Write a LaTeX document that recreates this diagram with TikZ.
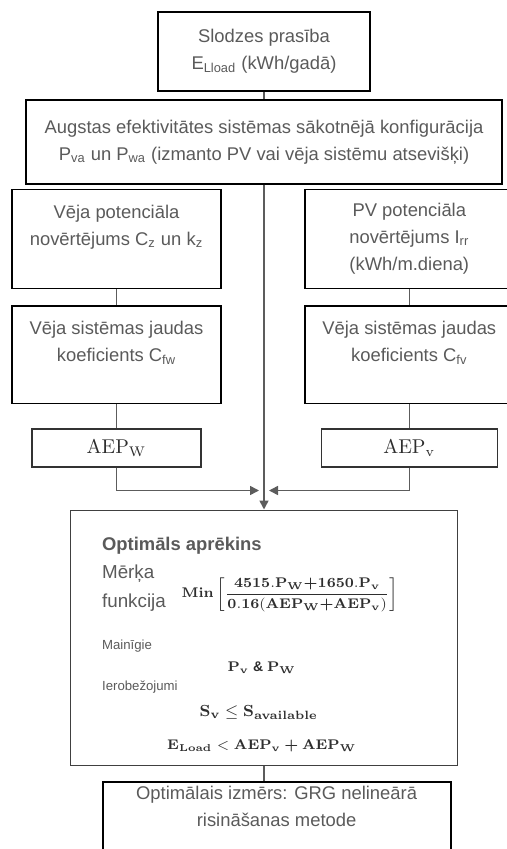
\documentclass[tikz,border=0pt]{standalone}
\usepackage{amsmath}
\usepackage[no-math]{fontspec}
\setmainfont{Liberation Sans}
\usepackage{tikz}
\usetikzlibrary{arrows.meta,positioning,calc}
\definecolor{txtgray}{HTML}{5A5A5A}
\definecolor{linegray}{HTML}{5C5C5C}
\definecolor{mathgray}{HTML}{2E2E2E}
\newcommand\boxfont{\fontsize{9.2}{13.5}\selectfont}
\newcommand\tinyfont{\fontsize{6.6}{8}\selectfont}

\begin{document}
\begin{tikzpicture}[
  node distance=4pt,
  box/.style={draw=black, line width=0.9pt, align=center, font=\boxfont,
              text=txtgray, inner sep=2pt},
  aepbox/.style={draw=black!80, line width=0.6pt, minimum height=19pt,
                 font=\normalsize, text=mathgray},
  optbox/.style={draw=black!75, line width=0.8pt, minimum width=193.5pt,
                 minimum height=127.5pt},
  lbl/.style={text=txtgray, inner sep=0pt, anchor=base west},
  eq/.style={text=mathgray, inner sep=0pt, font=\scriptsize},
  link/.style={draw=linegray, line width=0.8pt},
  arrow/.style={link, -{Triangle[length=4.5pt,width=4.5pt]}}
]
\clip (0,0) rectangle (253.5pt,-424.5pt);

% top of the chain
\node[box, minimum width=106pt, minimum height=39.5pt] (load) at (132pt,-25.75pt)
  {Slodzes prasība\\E\textsubscript{Lload} (kWh/gadā)};
\node[box, minimum width=238pt, minimum height=42pt, below=3.5pt of load] (config)
  {Augstas efektivitātes sistēmas sākotnējā konfigurācija\\
   P\textsubscript{va} un P\textsubscript{wa} (izmanto PV vai vēja sistēmu atsevišķi)};

% wind and PV branches
\node[box, minimum width=104.5pt, minimum height=49.5pt,
      below right=2pt and -7pt of config.south west] (windpot)
  {Vēja potenciāla\\novērtējums C\textsubscript{z} un k\textsubscript{z}\\~};
\node[box, minimum width=104.5pt, minimum height=49.5pt, right=41pt of windpot] (pvpot)
  {PV potenciāla\\novērtējums I\textsubscript{rr}\\(kWh/m.diena)};
\node[box, minimum width=104.5pt, minimum height=48.5pt, below=8pt of windpot] (windcoef)
  {Vēja sistēmas jaudas\\koeficients C\textsubscript{fw}\\~};
\node[box, minimum width=104.5pt, minimum height=48.5pt, below=8pt of pvpot] (pvcoef)
  {Vēja sistēmas jaudas\\koeficients C\textsubscript{fv}\\~};

\node[aepbox, minimum width=84.5pt, below=12pt of windcoef] (aepw)
  {$\mathrm{AEP}_{\mathrm{W}}$};
\node[aepbox, minimum width=88pt, below=12pt of pvcoef] (aepv)
  {$\mathrm{AEP}_{\mathrm{v}}$};

\coordinate (mid) at (config.south |- aepw.south);
\coordinate[below=11.5pt of mid] (join);

% optimisation block
\node[optbox, below=21pt of mid] (optim) {};
\node[lbl, font=\fontsize{9.2}{10}\bfseries] (ttl)
  at ([shift={(16pt,-20.5pt)}]optim.north west) {Optimāls aprēkins};
\node[lbl, font=\fontsize{9.4}{10}\selectfont] (goal1)
  at ([shift={(16pt,-34.5pt)}]optim.north west) {Mērķa};
\node[lbl, font=\fontsize{9.4}{10}\selectfont] (goal2)
  at ([shift={(16pt,-49pt)}]optim.north west) {funkcija};
\node[eq] (obj) at ([shift={(110pt,-42.5pt)}]optim.north west)
  {$\mathbf{Min}\left[\dfrac{\mathbf{4515.P_W}{\boldsymbol{+}}\mathbf{1650.P_v}}
   {\mathbf{0.16(AEP_W}{\boldsymbol{+}}\mathbf{AEP_v)}}\right]$};
\node[lbl, font=\tinyfont] (vars)
  at ([shift={(16pt,-70pt)}]optim.north west) {Mainīgie};
\node[eq] (varset) at ([shift={(96pt,-79pt)}]optim.north west)
  {$\mathbf{P_v}$ \textbf{\&} $\mathbf{P_W}$};
\node[lbl, font=\tinyfont] (cons)
  at ([shift={(16pt,-90.5pt)}]optim.north west) {Ierobežojumi};
\node[eq, font=\footnotesize] (area) at ([shift={(94.5pt,-101.5pt)}]optim.north west)
  {$\mathbf{S_v}\leq\mathbf{S_{available}}$};
\node[eq] (energy) at ([shift={(96pt,-118pt)}]optim.north west)
  {$\mathbf{E_{Load}}<\mathbf{AEP_v}\boldsymbol{+}\mathbf{AEP_W}$};

\node[box, minimum width=174pt, below right=7.5pt and 16pt of optim.south west] (size)
  {Optimālais izmērs: GRG nelineārā\\risināšanas metode\\~\\~};

% connectors
\draw[link] (load) -- (config);
\draw[link] (windpot) -- (windcoef);
\draw[link] (pvpot) -- (pvcoef);
\draw[link] (windcoef) -- (aepw);
\draw[link] (pvcoef) -- (aepv);
\draw[arrow] (config.south) -- (optim.north);
\draw[arrow] (aepw.south) |- ([xshift=-2.5pt]join);
\draw[arrow] (aepv.south) |- ([xshift=2.5pt]join);
\draw[link] (optim.south) -- (optim.south |- size.north);
\end{tikzpicture}
\end{document}
